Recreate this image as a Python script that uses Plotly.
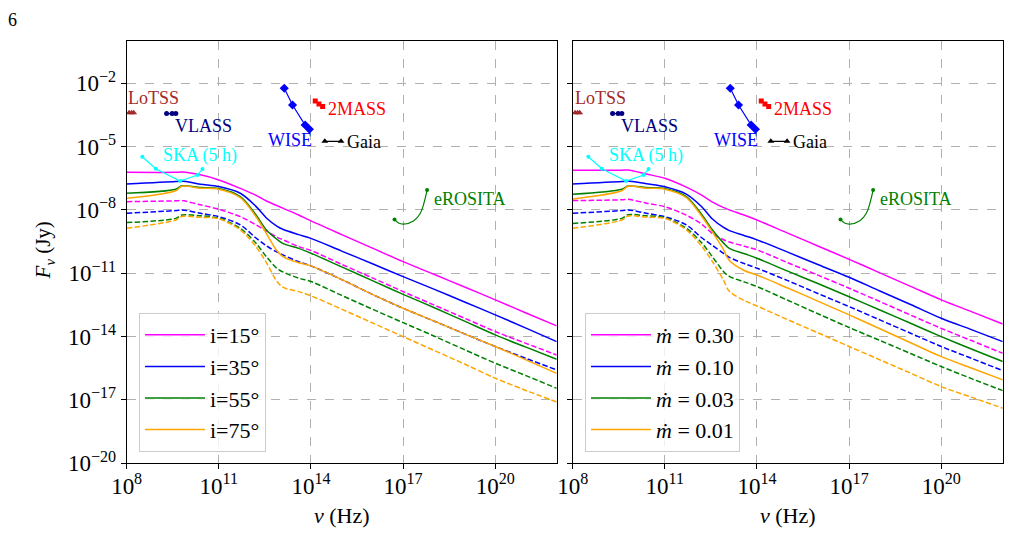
import plotly.graph_objects as go

# ---------------- data (log10 values) ----------------
lognu = [8, 9.6, 9.8, 10.4, 11, 11.7, 12.2, 12.55, 12.9, 13.1, 13.6, 14,
         15, 16, 17, 18, 19, 20, 21, 22]

# left panel: inclinations (solid / dashed)
inc_labels = ["i=15°", "i=35°", "i=55°", "i=75°"]
i15_solid = [-6.22, -6.22, -6.21, -6.34, -6.58, -6.98, -7.30, -7.58, -7.80, -7.93, -8.24, -8.52,
             -9.17, -9.81, -10.45, -11.05, -11.65, -12.26, -12.88, -13.49]
i35_solid = [-6.77, -6.66, -6.63, -6.78, -6.89, -7.21, -7.82, -8.38, -8.78, -8.93, -9.17, -9.35,
             -9.95, -10.55, -11.16, -11.75, -12.36, -12.97, -13.60, -14.24]
i55_solid = [-7.21, -7.02, -6.86, -6.94, -6.99, -7.37, -8.22, -8.95, -9.40, -9.60, -9.82, -10.05,
             -10.70, -11.35, -12.00, -12.62, -13.27, -13.92, -14.50, -15.07]
i75_solid = [-7.45, -7.09, -6.88, -6.97, -7.02, -7.42, -8.30, -9.12, -9.95, -10.22, -10.50, -10.65,
             -11.30, -12.00, -12.66, -13.26, -13.87, -14.47, -15.10, -15.74]
i15_dashed = [-7.61, -7.57, -7.56, -7.76, -7.97, -8.32, -8.70, -9.00, -9.30, -9.42, -9.74, -9.92,
              -10.58, -11.22, -11.87, -12.50, -13.13, -13.76, -14.32, -14.87]
i35_dashed = [-8.16, -8.03, -8.00, -8.16, -8.32, -8.71, -9.32, -9.70, -10.00, -10.14, -10.45, -10.65,
              -11.30, -12.00, -12.66, -13.26, -13.87, -14.47, -15.03, -15.58]
i55_dashed = [-8.60, -8.40, -8.24, -8.28, -8.39, -8.87, -9.56, -10.22, -10.78, -10.95, -11.23, -11.39,
              -12.05, -12.70, -13.34, -13.97, -14.62, -15.26, -15.85, -16.45]
i75_dashed = [-8.87, -8.48, -8.31, -8.35, -8.42, -8.95, -9.72, -10.50, -11.40, -11.67, -11.87, -12.07,
              -12.70, -13.35, -14.00, -14.65, -15.30, -15.97, -16.55, -17.10]

# right panel: accretion rates (solid / dashed)
mdot_labels = ["<i>ṁ</i> = 0.30", "<i>ṁ</i> = 0.10", "<i>ṁ</i> = 0.03", "<i>ṁ</i> = 0.01"]
m30_solid = [-6.12, -6.12, -6.11, -6.30, -6.50, -6.92, -7.30, -7.63, -7.88, -8.00, -8.25, -8.48,
             -9.10, -9.72, -10.34, -10.98, -11.62, -12.26, -12.83, -13.40]
m10_solid = [-6.77, -6.66, -6.63, -6.76, -6.90, -7.25, -7.85, -8.43, -8.82, -8.98, -9.22, -9.42,
             -10.00, -10.60, -11.19, -11.84, -12.48, -13.13, -13.68, -14.24]
m03_solid = [-7.26, -7.02, -6.87, -6.94, -6.98, -7.37, -8.22, -8.95, -9.55, -9.82, -10.08, -10.29,
             -10.90, -11.50, -12.11, -12.74, -13.37, -14.00, -14.60, -15.18]
m01_solid = [-7.48, -7.09, -6.88, -6.97, -7.02, -7.42, -8.30, -9.05, -9.85, -10.40, -10.88, -11.08,
             -11.70, -12.33, -12.97, -13.63, -14.29, -14.95, -15.50, -16.05]
m30_dashed = [-7.56, -7.52, -7.50, -7.68, -7.85, -8.25, -8.68, -9.12, -9.40, -9.52, -9.72, -9.89,
              -10.50, -11.10, -11.71, -12.34, -12.98, -13.61, -14.20, -14.79]
m10_dashed = [-8.16, -8.03, -8.00, -8.16, -8.32, -8.71, -9.32, -9.68, -10.05, -10.25, -10.55, -10.76,
              -11.35, -11.97, -12.58, -13.21, -13.84, -14.47, -15.04, -15.61]
m03_dashed = [-8.64, -8.40, -8.23, -8.28, -8.37, -8.87, -9.56, -10.22, -10.90, -11.15, -11.42, -11.63,
              -12.28, -12.93, -13.57, -14.18, -14.80, -15.42, -16.00, -16.56]
m01_dashed = [-8.87, -8.48, -8.29, -8.35, -8.40, -8.95, -9.72, -10.45, -11.30, -11.85, -12.30, -12.55,
              -13.20, -13.83, -14.47, -15.10, -15.73, -16.37, -16.88, -17.39]

# survey sensitivities (log10 nu, log10 F)
lotss_x = [8.08, 8.16, 8.23]
lotss_y = [-3.40, -3.40, -3.40]
vlass_x = [9.30, 9.48, 9.60]
vlass_y = [-3.44, -3.44, -3.44]
wise_x = [13.13, 13.40, 13.81, 13.95]
wise_y = [-2.24, -3.03, -3.98, -4.18]
tmass_x = [14.14, 14.26, 14.38]
tmass_y = [-2.84, -2.98, -3.10]
gaia_x = [14.45, 14.98]
gaia_y = [-4.75, -4.75]
ska_x = [8.51, 8.95, 9.74, 10.31, 10.47]
ska_y = [-5.48, -6.05, -6.63, -6.35, -6.06]
erosita_x = [16.72, 16.85, 17.02, 17.35, 17.56, 17.78]
erosita_y = [-8.45, -8.62, -8.67, -8.51, -8.16, -7.06]

survey_names = ["LoTSS", "VLASS", "WISE", "2MASS", "Gaia", "SKA (5 h)", "eROSITA"]
survey_label_x = [8.89, 10.49, 13.33, 15.51, 15.74, 10.39, 19.19]
survey_label_y = [-2.70, -4.03, -4.69, -3.22, -4.78, -5.40, -7.49]

xtick_exp = [8, 11, 14, 17, 20]
ytick_exp = [-20, -17, -14, -11, -8, -5, -2]

# ---------------- styling ----------------
colors = ["#ff00ff", "#0000ff", "#008000", "#ffa500"]
FONT = "Liberation Serif"
DASH = "5.5px,2.4px"


def p(v):
    return [10.0 ** a for a in v]


fig = go.Figure()
nu = p(lognu)

panels = [
    ("x", "y", "legend", inc_labels,
     [i15_solid, i35_solid, i55_solid, i75_solid],
     [i15_dashed, i35_dashed, i55_dashed, i75_dashed]),
    ("x2", "y2", "legend2", mdot_labels,
     [m30_solid, m10_solid, m03_solid, m01_solid],
     [m30_dashed, m10_dashed, m03_dashed, m01_dashed]),
]

for xa, ya, leg, labels, solids, dashes in panels:
    for k in range(4):
        fig.add_trace(go.Scatter(x=nu, y=p(dashes[k]), mode="lines", xaxis=xa, yaxis=ya,
                                 line=dict(color=colors[k], width=1.5, dash=DASH, shape="spline",
                                           smoothing=0.9),
                                 showlegend=False, hoverinfo="skip"))
    for k in range(4):
        fig.add_trace(go.Scatter(x=nu, y=p(solids[k]), mode="lines", xaxis=xa, yaxis=ya,
                                 line=dict(color=colors[k], width=1.5, shape="spline", smoothing=0.9),
                                 name=labels[k], legend=leg, legendgroup=f"{leg}{k}",
                                 showlegend=True, hoverinfo="skip"))

    # surveys
    fig.add_trace(go.Scatter(x=p(lotss_x), y=p(lotss_y), mode="lines+markers", xaxis=xa, yaxis=ya,
                             line=dict(color="#a52a2a", width=1.2),
                             marker=dict(symbol="triangle-up", size=6, color="#a52a2a"),
                             showlegend=False, hoverinfo="skip"))
    fig.add_trace(go.Scatter(x=p(vlass_x), y=p(vlass_y), mode="lines+markers", xaxis=xa, yaxis=ya,
                             line=dict(color="#000080", width=1.2),
                             marker=dict(symbol="circle", size=5, color="#000080"),
                             showlegend=False, hoverinfo="skip"))
    fig.add_trace(go.Scatter(x=p(wise_x), y=p(wise_y), mode="lines+markers", xaxis=xa, yaxis=ya,
                             line=dict(color="#0000ff", width=1.2),
                             marker=dict(symbol="diamond", size=7, color="#0000ff"),
                             showlegend=False, hoverinfo="skip"))
    fig.add_trace(go.Scatter(x=p(tmass_x), y=p(tmass_y), mode="lines+markers", xaxis=xa, yaxis=ya,
                             line=dict(color="#ff0000", width=1.2),
                             marker=dict(symbol="square", size=5, color="#ff0000"),
                             showlegend=False, hoverinfo="skip"))
    fig.add_trace(go.Scatter(x=p(gaia_x), y=p(gaia_y), mode="lines+markers", xaxis=xa, yaxis=ya,
                             line=dict(color="#000000", width=1.2),
                             marker=dict(symbol="triangle-up", size=6, color="#000000"),
                             showlegend=False, hoverinfo="skip"))
    fig.add_trace(go.Scatter(x=p(ska_x), y=p(ska_y), mode="lines+markers", xaxis=xa, yaxis=ya,
                             line=dict(color="#00ffff", width=1.2),
                             marker=dict(symbol="circle", size=4, color="#00ffff"),
                             showlegend=False, hoverinfo="skip"))
    fig.add_trace(go.Scatter(x=p(erosita_x), y=p(erosita_y), mode="lines", xaxis=xa, yaxis=ya,
                             line=dict(color="#008000", width=1.2, shape="spline"),
                             showlegend=False, hoverinfo="skip"))
    fig.add_trace(go.Scatter(x=p([erosita_x[0], erosita_x[-1]]), y=p([erosita_y[0], erosita_y[-1]]),
                             mode="markers", xaxis=xa, yaxis=ya,
                             marker=dict(symbol="circle", size=4, color="#008000"),
                             showlegend=False, hoverinfo="skip"))

survey_colors = ["#a52a2a", "#000080", "#0000ff", "#ff0000", "#000000", "#00ffff", "#008000"]
annotations = []
for xa, ya in [("x", "y"), ("x2", "y2")]:
    for name, lx, ly, c in zip(survey_names, survey_label_x, survey_label_y, survey_colors):
        annotations.append(dict(x=lx, y=ly, xref=xa, yref=ya, text=name, showarrow=False,
                                xanchor="center", yanchor="middle",
                                font=dict(family=FONT, size=18, color=c)))

# axis titles and page number
for cx in (0.3383, 0.7799):
    annotations.append(dict(x=cx, y=0.032, xref="paper", yref="paper", text="<i>ν</i> (Hz)",
                            xanchor="center", yanchor="middle",
                            showarrow=False, font=dict(family=FONT, size=22, color="black")))
annotations.append(dict(x=0.044, y=0.531, xref="paper", yref="paper", textangle=-90,
                        text="<i>F</i><sub><i>ν</i></sub> (Jy)", xanchor="center", yanchor="middle",
                        showarrow=False, font=dict(family=FONT, size=21, color="black")))
annotations.append(dict(x=0.006, y=0.985, xref="paper", yref="paper", text="6",
                        xanchor="left", yanchor="top",
                        showarrow=False, font=dict(family=FONT, size=18, color="black")))

xt_vals = [10.0 ** e for e in xtick_exp]
xt_text = [f"10<sup>{e}</sup>" for e in xtick_exp]
yt_vals = [10.0 ** e for e in ytick_exp]
yt_text = [f"10<sup>−{-e}</sup>" for e in ytick_exp]

axis_common = dict(type="log", showline=True, linecolor="black", linewidth=1, mirror=True,
                   ticks="outside", ticklen=5, tickwidth=1, tickcolor="black",
                   showgrid=True, gridcolor="#b0b0b0", griddash="dash", gridwidth=1,
                   zeroline=False, automargin=False,
                   tickfont=dict(family=FONT, size=23, color="black"))

ydom = [0.1308, 0.9231]
legend_common = dict(bgcolor="rgba(255,255,255,0.8)", bordercolor="#cccccc", borderwidth=1,
                     font=dict(family=FONT, size=22, color="black"), xanchor="left", yanchor="top",
                     tracegroupgap=0, itemwidth=60)

fig.update_layout(
    width=1010, height=533, margin=dict(l=0, r=0, t=0, b=0, autoexpand=False),
    paper_bgcolor="white", plot_bgcolor="white",
    xaxis=dict(domain=[0.1254, 0.5512], range=[8, 22], tickvals=xt_vals, ticktext=xt_text,
               anchor="y", ticklabelstandoff=-3, **axis_common),
    yaxis=dict(domain=ydom, range=[-20, 0], tickvals=yt_vals, ticktext=yt_text,
               anchor="x", **axis_common),
    xaxis2=dict(domain=[0.5670, 0.9928], range=[8, 22], tickvals=xt_vals, ticktext=xt_text,
                anchor="y2", ticklabelstandoff=-3, **axis_common),
    yaxis2=dict(domain=ydom, range=[-20, 0], tickvals=yt_vals, ticktext=yt_text,
                showticklabels=False, anchor="x2", **axis_common),
    legend=dict(x=0.1376, y=0.4128, entrywidth=70, **legend_common),
    legend2=dict(x=0.5792, y=0.4128, entrywidth=120, **legend_common),
    annotations=annotations,
    showlegend=True,
)

fig.write_html("out.html")
